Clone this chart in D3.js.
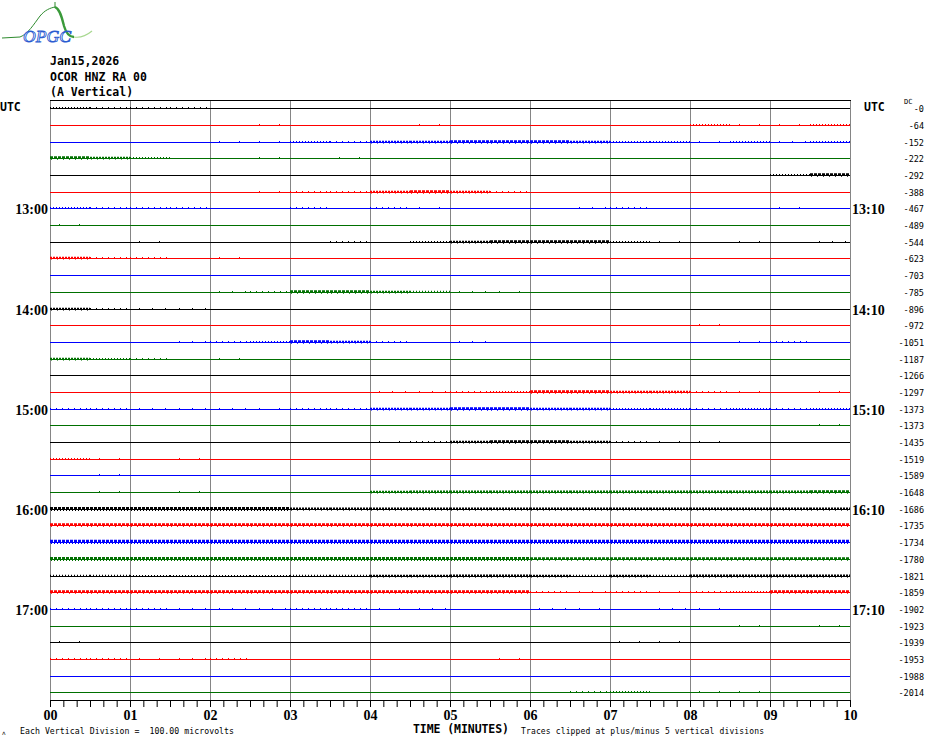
<!DOCTYPE html>
<html>
<head>
<meta charset="utf-8">
<script src="https://cdn.jsdelivr.net/npm/d3@7/dist/d3.min.js"></script>
<style>
  html, body { margin: 0; padding: 0; background: #fff; }
  svg { display: block; }
</style>
</head>
<body>
<svg id="chart" width="930" height="744"></svg>
<script>
// ---------------- DATA ----------------
const headerLines = ["Jan15,2026", "OCOR HNZ RA 00", "(A Vertical)"];
const minuteTicks = [0, 1, 2, 3, 4, 5, 6, 7, 8, 9, 10];
const hourLabelsLeft = ["13:00", "14:00", "15:00", "16:00", "17:00"];
const hourLabelsRight = ["13:10", "14:10", "15:10", "16:10", "17:10"];
const hourLabelTrace = [6, 12, 18, 24, 30];
const traceCount = 36;
const dcOffsets = [0, -64, -152, -222, -292, -388, -467, -489, -544, -623, -703, -785,
  -896, -972, -1051, -1187, -1266, -1297, -1373, -1373, -1435, -1519, -1589, -1648,
  -1686, -1735, -1734, -1780, -1821, -1859, -1902, -1923, -1939, -1953, -1988, -2014];
// noise envelope per trace (microvolts), 20 bins of 30 s each, read from the record
const traceNoise = [
  [6,4,4,4,0,0,0,0,0,0,0,0,0,0,0,0,0,0,0,0],
  [0,0,0,0,0,2,0,0,0,2,0,0,0,0,0,0,6,2,2,6],
  [0,0,0,0,2,2,6,4,8,8,10,10,10,8,6,6,2,6,3,6],
  [10,8,6,0,0,2,0,2,0,0,0,0,0,0,0,0,0,0,0,0],
  [0,0,0,0,0,0,0,0,0,0,0,0,0,0,0,0,0,0,6,10],
  [0,0,0,0,0,2,4,5,8,10,8,4,0,0,0,0,0,0,0,0],
  [6,5,5,4,0,0,5,0,4,2,0,0,0,3,4,0,0,0,2,0],
  [2,0,0,0,0,0,0,0,0,0,0,0,0,0,0,0,0,0,0,0],
  [0,0,2,0,0,0,0,5,0,6,8,10,10,10,6,2,0,2,0,3],
  [8,5,4,0,2,0,0,0,0,0,0,0,0,0,0,0,0,0,0,0],
  [0,0,0,0,0,0,0,0,0,0,0,0,0,0,0,0,0,0,0,0],
  [0,0,0,0,3,5,10,10,8,7,3,2,0,0,0,0,0,0,0,0],
  [8,4,3,3,0,0,0,0,0,0,0,0,0,0,0,0,0,0,0,0],
  [0,0,0,0,0,0,0,0,0,0,0,0,0,0,0,0,2,0,0,0],
  [0,0,0,3,4,6,10,8,4,0,3,0,0,0,0,0,0,2,5,0],
  [8,6,4,0,2,0,0,0,0,0,0,0,0,0,0,0,0,0,0,0],
  [0,0,0,0,0,0,0,0,0,0,0,0,0,0,0,0,0,0,0,0],
  [0,0,0,0,0,0,0,0,3,3,5,6,10,10,8,8,5,2,0,2],
  [5,4,3,3,3,2,4,5,8,8,10,10,8,8,6,6,5,6,4,6],
  [0,0,0,0,0,0,0,0,0,0,0,0,0,0,0,0,0,0,0,2],
  [0,0,0,0,0,0,0,0,2,4,8,10,10,8,4,2,2,0,0,0],
  [6,2,0,2,0,0,0,0,0,0,0,0,0,0,0,0,0,0,0,0],
  [0,2,0,0,0,0,0,0,0,0,0,0,0,0,0,0,0,0,0,0],
  [0,2,0,2,0,0,0,0,8,9,9,9,9,9,9,9,9,9,9,10],
  [12,12,12,12,12,12,9,9,9,9,9,9,9,9,9,9,9,9,9,9],
  [11,11,11,11,11,11,11,11,11,11,11,11,11,11,11,11,11,11,11,11],
  [13,13,13,13,13,13,13,13,13,13,13,13,13,13,13,13,13,13,13,13],
  [12,12,12,12,12,12,12,12,12,12,12,12,10,10,10,10,10,10,10,10],
  [7,7,6,6,6,6,7,7,8,8,9,9,8,7,8,7,9,9,9,9],
  [10,10,10,10,10,10,10,10,10,10,10,10,4,3,4,2,5,6,10,10],
  [4,5,5,3,3,3,4,4,2,3,0,0,3,2,0,3,2,0,0,0],
  [0,0,0,0,0,0,0,0,0,0,0,0,0,0,0,0,0,2,0,2],
  [2,0,0,0,0,0,0,0,0,0,0,0,0,0,2,2,0,0,0,0],
  [4,4,2,3,4,0,0,0,0,0,0,2,0,0,0,0,0,0,0,0],
  [0,0,0,0,0,0,0,0,0,0,0,0,0,0,0,0,0,0,0,0],
  [0,0,0,0,0,0,0,0,0,0,0,0,0,4,6,0,2,2,0,0]
];
const microvoltsPerDivision = 100;

// ---------------- STYLE ----------------
const palette = ["#000000", "#ff0000", "#0000ff", "#007000"];
const mono = "'DejaVu Sans Mono', monospace";
const serif = "'Liberation Serif', serif";
const dashFor = v => v <= 2 ? "1 19" : v <= 3 ? "1 12" : v <= 5 ? "1 5" : v <= 7 ? "1 2" : v <= 9 ? "2 1" : "3 1";

// ---------------- SCALES ----------------
const svg = d3.select("#chart");
const x = d3.scaleLinear().domain([0, 10]).range([50, 850]);
const y = d3.scaleLinear().domain([0, traceCount - 1]).range([108.3, 692.3]);
const divPx = (y(1) - y(0)); // one trace spacing = one vertical division
const amp = d3.scaleLinear().domain([0, microvoltsPerDivision]).range([0, divPx]);
const py = i => Math.round(y(i)) + 0.5;
const binWidth = 10 / traceNoise[0].length;

// ---------------- LOGO ----------------
const logo = svg.append("g");
logo.append("path")
  .attr("d", "M2,38 L20,37 C28,34 34,24 40,16 C45,10 50,8 55,7")
  .attr("fill", "none").attr("stroke", "#2e8b2e").attr("stroke-width", 1);
logo.append("line").attr("x1", 55).attr("x2", 55).attr("y1", 2).attr("y2", 8)
  .attr("stroke", "#2e8b2e").attr("stroke-width", 1);
logo.append("path")
  .attr("d", "M55,7 C60,9 62,18 64,26 C66,33 69,37 74,37")
  .attr("fill", "none").attr("stroke", "#3a9a3a").attr("stroke-width", 2.4);
logo.append("path")
  .attr("d", "M74,37 C80,38 86,36 92,31")
  .attr("fill", "none").attr("stroke", "#a8d890").attr("stroke-width", 1.2);
logo.append("text").attr("x", 23).attr("y", 42)
  .attr("font-family", serif).attr("font-style", "italic").attr("font-size", 16)
  .attr("textLength", 48).attr("lengthAdjust", "spacingAndGlyphs")
  .attr("fill", "#ffffff").attr("stroke", "#2a5bd0").attr("stroke-width", 0.8)
  .text("OPGC");

// ---------------- HEADER ----------------
svg.selectAll("text.hdr").data(headerLines).join("text")
  .attr("class", "hdr")
  .attr("x", 50).attr("y", (d, i) => 65 + i * 15.7)
  .attr("font-family", mono).attr("font-weight", "bold").attr("font-size", 11.5)
  .attr("fill", "#000").text(d => d);

// ---------------- GRID ----------------
svg.append("g").selectAll("line").data(minuteTicks).join("line")
  .attr("x1", d => Math.round(x(d)) + 0.5).attr("x2", d => Math.round(x(d)) + 0.5)
  .attr("y1", 100).attr("y2", 701)
  .attr("stroke", "#858585").attr("stroke-width", 1);
svg.append("line").attr("x1", x(0)).attr("x2", x(10) + 1)
  .attr("y1", 100.5).attr("y2", 100.5).attr("stroke", "#000").attr("stroke-width", 1);

// ---------------- TRACES ----------------
const traces = svg.append("g");
const idx = d3.range(traceCount);
traces.selectAll("line.base").data(idx).join("line")
  .attr("class", "base")
  .attr("x1", x(0)).attr("x2", x(10))
  .attr("y1", i => py(i)).attr("y2", i => py(i))
  .attr("stroke", i => palette[i % 4]).attr("stroke-width", 1)
  .attr("shape-rendering", "crispEdges");

idx.forEach(i => {
  const bins = traceNoise[i].map((v, b) => ({ v, b })).filter(d => d.v > 0);
  const g = traces.append("g");
  // upward excursions
  g.selectAll("line.up").data(bins).join("line")
    .attr("x1", d => x(d.b * binWidth) + (d.v <= 3 ? 9 : 0)).attr("x2", d => x((d.b + 1) * binWidth))
    .attr("y1", d => py(i) - 0.5 - Math.max(1, amp(d.v)) / 2)
    .attr("y2", d => py(i) - 0.5 - Math.max(1, amp(d.v)) / 2)
    .attr("stroke", palette[i % 4])
    .attr("stroke-width", d => Math.max(1, amp(d.v)))
    .attr("stroke-dasharray", d => dashFor(d.v));
  // downward excursions for the noisier bins
  g.selectAll("line.dn").data(bins.filter(d => d.v >= 8)).join("line")
    .attr("x1", d => x(d.b * binWidth) + 1).attr("x2", d => x((d.b + 1) * binWidth))
    .attr("y1", d => py(i) + 0.5 + amp(d.v) / 4)
    .attr("y2", d => py(i) + 0.5 + amp(d.v) / 4)
    .attr("stroke", palette[i % 4])
    .attr("stroke-width", d => amp(d.v) / 2)
    .attr("stroke-dasharray", d => d.v >= 12 ? "1 2" : "1 5");
});

// ---------------- TIME LABELS ----------------
const timeFont = g => g.attr("font-family", serif).attr("font-weight", "bold").attr("font-size", 14).attr("fill", "#000");
svg.append("text").attr("x", 0).attr("y", 111).attr("font-family", mono).attr("font-weight", "bold")
  .attr("font-size", 11.5).text("UTC");
svg.append("text").attr("x", 864).attr("y", 111).attr("font-family", mono).attr("font-weight", "bold")
  .attr("font-size", 11.5).text("UTC");
svg.selectAll("text.hl").data(hourLabelsLeft).join("text").attr("class", "hl")
  .attr("x", 48).attr("text-anchor", "end")
  .attr("y", (d, k) => py(hourLabelTrace[k]) + 5).call(timeFont).text(d => d);
svg.selectAll("text.hr").data(hourLabelsRight).join("text").attr("class", "hr")
  .attr("x", 852)
  .attr("y", (d, k) => py(hourLabelTrace[k]) + 5).call(timeFont).text(d => d);

// ---------------- DC OFFSETS ----------------
svg.selectAll("text.dc").data(dcOffsets).join("text").attr("class", "dc")
  .attr("x", 924).attr("text-anchor", "end")
  .attr("y", (d, i) => py(i) + 3.5)
  .attr("font-family", mono).attr("font-size", 8.5).attr("fill", "#000")
  .text(d => d === 0 ? "-0" : String(d));
svg.append("text").attr("x", 904).attr("y", 104).attr("font-family", mono)
  .attr("font-size", 7).text("DC");

// ---------------- X AXIS ----------------
const axisG = svg.append("g").attr("transform", "translate(0,700)");
axisG.call(d3.axisBottom(x).tickValues(d3.range(0, 61).map(k => k / 6))
  .tickSize(7).tickSizeOuter(0).tickFormat(""));
axisG.select(".domain").attr("stroke", "#000");
axisG.selectAll(".tick line").attr("stroke", "#000");

const labelG = svg.append("g").attr("transform", "translate(0,700)");
labelG.call(d3.axisBottom(x).tickValues(minuteTicks).tickSize(0).tickPadding(10)
  .tickFormat(d3.format("02d")));
labelG.select(".domain").remove();
labelG.selectAll("text").attr("font-family", serif).attr("font-weight", "bold")
  .attr("font-size", 14).attr("fill", "#000");

svg.append("text").attr("x", 413).attr("y", 733).attr("font-family", mono)
  .attr("font-weight", "bold").attr("font-size", 11.5).attr("textLength", 96)
  .text("TIME (MINUTES)");
svg.append("text").attr("x", 20).attr("y", 734).attr("font-family", mono)
  .attr("font-size", 8.2).attr("textLength", 214).attr("xml:space", "preserve")
  .text("Each Vertical Division =  " + microvoltsPerDivision.toFixed(2) + " microvolts");
svg.append("text").attr("x", 521).attr("y", 734).attr("font-family", mono)
  .attr("font-size", 8).attr("textLength", 243)
  .text("Traces clipped at plus/minus 5 vertical divisions");
svg.append("text").attr("x", 2).attr("y", 735).attr("font-family", mono)
  .attr("font-size", 6).text("\u028c");
</script>
</body>
</html>
